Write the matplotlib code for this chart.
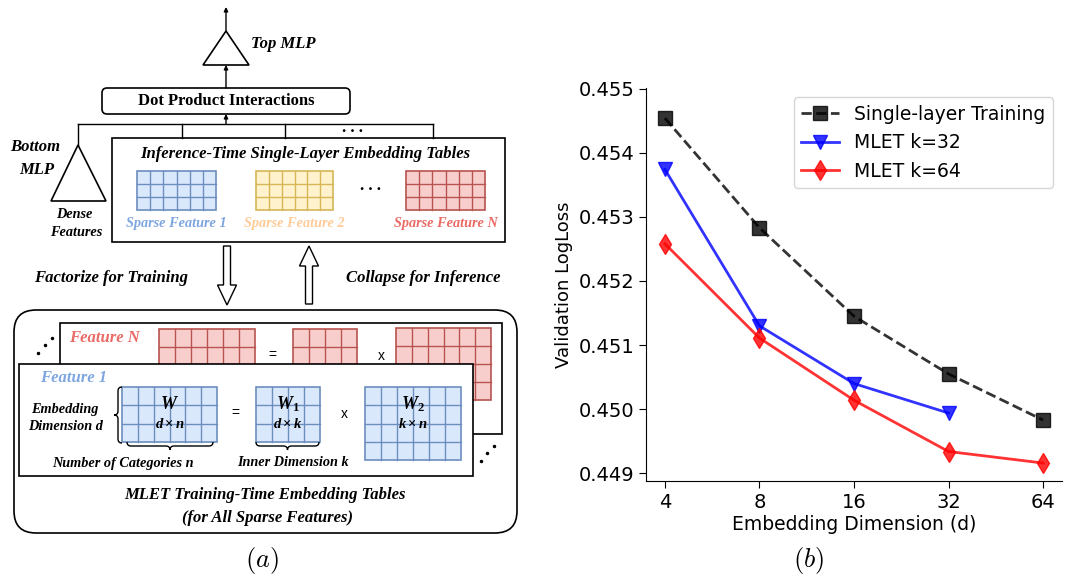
import numpy as np
import matplotlib
matplotlib.use('Agg')
import matplotlib.pyplot as plt
from matplotlib.patches import Rectangle, Polygon, FancyBboxPatch, PathPatch
from matplotlib.path import Path
from matplotlib.ticker import FormatStrFormatter, NullLocator

plt.rcParams['mathtext.fontset'] = 'custom'
plt.rcParams['mathtext.it'] = 'Liberation Serif:bold:italic'
plt.rcParams['mathtext.rm'] = 'Liberation Serif:bold'
plt.rcParams['mathtext.bf'] = 'Liberation Serif:bold'

# ---- data for panel (b)
emb_dims = [4, 8, 16, 32, 64]
single_layer = [0.45454, 0.45283, 0.45145, 0.45055, 0.44983]
mlet_k32_dims = [4, 8, 16, 32]
mlet_k32 = [0.45374, 0.45130, 0.45040, 0.44994]
mlet_k64 = [0.45258, 0.45111, 0.45014, 0.44934, 0.44916]
y_ticks = [0.449, 0.450, 0.451, 0.452, 0.453, 0.454, 0.455]

# ---- labels for panel (a)
sparse_labels = ['Sparse Feature 1', 'Sparse Feature 2', 'Sparse Feature N']
sparse_colors = ['#7EA6E0', '#FFCC99', '#EA6B66']
table_fill = ['#dae8fc', '#fff2cc', '#f8cecc']
table_edge = ['#6c8ebf', '#d6b656', '#b85450']

SERIF = 'Liberation Serif'


def grid(ax, x0, y0, x1, y1, ncol, nrow, fc, ec, z=2):
    ax.add_patch(Rectangle((x0, y0), x1 - x0, y1 - y0, fc=fc, ec=ec, lw=1.2, zorder=z))
    for c in range(1, ncol):
        x = x0 + (x1 - x0) * c / ncol
        ax.plot([x, x], [y0, y1], color=ec, lw=1.0, zorder=z)
    for r in range(1, nrow):
        y = y0 + (y1 - y0) * r / nrow
        ax.plot([x0, x1], [y, y], color=ec, lw=1.0, zorder=z)


def btext(ax, x, y, s, size=12, color='black', ha='center', style='italic', weight='bold'):
    ax.text(x, y, s, fontsize=size, color=color, ha=ha, va='center',
            family=SERIF, style=style, weight=weight, zorder=6)


def hbrace(ax, x0, x1, y, h=4):
    xm = (x0 + x1) / 2
    verts = [(x0, y - h), (x0, y), (x0 + h, y), (xm - h, y), (xm, y), (xm, y + h),
             (xm, y), (xm + h, y), (x1 - h, y), (x1, y), (x1, y - h)]
    codes = [Path.MOVETO, Path.CURVE3, Path.CURVE3, Path.LINETO, Path.CURVE3, Path.CURVE3,
             Path.CURVE3, Path.CURVE3, Path.LINETO, Path.CURVE3, Path.CURVE3]
    ax.add_patch(PathPatch(Path(verts, codes), fc='none', ec='black', lw=1.0, zorder=6))


def vbrace(ax, x, y0, y1, w=4):
    ym = (y0 + y1) / 2
    verts = [(x + w, y0), (x, y0), (x, y0 + w), (x, ym - w), (x, ym), (x - w, ym),
             (x, ym), (x, ym + w), (x, y1 - w), (x, y1), (x + w, y1)]
    codes = [Path.MOVETO, Path.CURVE3, Path.CURVE3, Path.LINETO, Path.CURVE3, Path.CURVE3,
             Path.CURVE3, Path.CURVE3, Path.LINETO, Path.CURVE3, Path.CURVE3]
    ax.add_patch(PathPatch(Path(verts, codes), fc='none', ec='black', lw=1.0, zorder=6))


def arrow(ax, x, y_from, y_to):
    ax.annotate('', xy=(x, y_to), xytext=(x, y_from),
                arrowprops=dict(arrowstyle='-|>', color='black', lw=1.0,
                                mutation_scale=6, shrinkA=0, shrinkB=0))


def block_arrow(ax, x, y_tail, y_tip, head_len=20, shaft_w=7, head_w=19):
    s = 1 if y_tip > y_tail else -1
    yh = y_tip - s * head_len
    pts = [(x - shaft_w / 2, y_tail), (x + shaft_w / 2, y_tail), (x + shaft_w / 2, yh),
           (x + head_w / 2, yh), (x, y_tip), (x - head_w / 2, yh), (x - shaft_w / 2, yh)]
    ax.add_patch(Polygon(pts, closed=True, fc='white', ec='black', lw=1.0))


fig = plt.figure(figsize=(10.8, 5.78), dpi=100)

# ================= panel (a): diagram =================
ax = fig.add_axes([0, 0, 0.5, 1])
ax.set_xlim(0, 540)
ax.set_ylim(578, 0)
ax.axis('off')

# top MLP
arrow(ax, 226, 31, 7)
ax.add_patch(Polygon([(226, 31), (203, 65), (249, 65)], closed=True, fc='none', ec='black', lw=1.2))
btext(ax, 251, 44, 'Top MLP', ha='left')
arrow(ax, 226, 88, 65)

# dot product box
ax.add_patch(FancyBboxPatch((102, 88), 248, 26, boxstyle='round,pad=0,rounding_size=5',
                            fc='white', ec='black', lw=1.2))
btext(ax, 226, 101, 'Dot Product Interactions', style='normal')

# bus
ax.plot([78, 433], [124, 124], color='black', lw=1.0)
for bx in [182, 285, 433]:
    ax.plot([bx, bx], [124, 138], color='black', lw=1.0)
ax.plot([78, 78], [124, 145], color='black', lw=1.0)
arrow(ax, 226, 124, 114)
btext(ax, 352, 128, '. . .', style='normal')

# bottom MLP
ax.add_patch(Polygon([(78, 145), (51, 201), (106, 201)], closed=True, fc='none', ec='black', lw=1.2))
btext(ax, 35, 147, 'Bottom')
btext(ax, 37, 170, 'MLP')
btext(ax, 74, 214, 'Dense', size=10.3)
btext(ax, 76, 233, 'Features', size=10.3)

# inference tables
ax.add_patch(Rectangle((112, 138), 393, 104, fc='white', ec='black', lw=1.2))
btext(ax, 305, 154, 'Inference-Time Single-Layer Embedding Tables')
for (x0, x1), fc, ec, lab, col in zip([(137, 216), (256, 333), (406, 485)],
                                      table_fill, table_edge, sparse_labels, sparse_colors):
    grid(ax, x0, 171, x1, 210, 6, 3, fc, ec)
    btext(ax, (x0 + x1) / 2, 224, lab, size=10.3, color=col)
btext(ax, 370, 186, '. . .', style='normal')

# factorize / collapse
block_arrow(ax, 227, 246, 305)
block_arrow(ax, 309, 304, 246)
btext(ax, 111, 278, 'Factorize for Training')
btext(ax, 423, 278, 'Collapse for Inference')

# training-time tables
ax.add_patch(FancyBboxPatch((14, 310), 503, 223, boxstyle='round,pad=0,rounding_size=22',
                            fc='none', ec='black', lw=1.2))
ax.add_patch(Rectangle((60, 323), 442, 111, fc='white', ec='black', lw=1.2, zorder=1))
btext(ax, 69, 338, 'Feature N', color=sparse_colors[2], ha='left')
grid(ax, 159, 329, 255, 382, 6, 3, table_fill[2], table_edge[2])
grid(ax, 293, 329, 357, 382, 4, 3, table_fill[2], table_edge[2])
grid(ax, 396, 328, 491, 400, 6, 4, table_fill[2], table_edge[2])
ax.text(272, 355, '=', fontsize=10, ha='center', va='center', family='Liberation Sans')
ax.text(381, 356, 'x', fontsize=10, ha='center', va='center', family='Liberation Sans')
ax.plot([38, 45, 52], [353, 345, 338], 'k.', ms=3)
ax.plot([481, 487, 494], [461, 453, 446], 'k.', ms=3)

ax.add_patch(Rectangle((19, 364), 454, 112, fc='white', ec='black', lw=1.2, zorder=3))
btext(ax, 40, 378, 'Feature 1', color=sparse_colors[0], ha='left')
btext(ax, 65, 409, 'Embedding', size=10.3)
btext(ax, 66, 427, 'Dimension d', size=10.3)
vbrace(ax, 118, 387, 443)
grid(ax, 122, 387, 217, 442, 6, 3, table_fill[0], table_edge[0], z=4)
grid(ax, 256, 387, 320, 442, 4, 3, table_fill[0], table_edge[0], z=4)
grid(ax, 365, 387, 461, 460, 6, 4, table_fill[0], table_edge[0], z=4)
for cx, top, bot in [(170, '$W$', r'$d\times n$'), (288, '$W_1$', r'$d\times k$'),
                     (413, '$W_2$', r'$k\times n$')]:
    ax.text(cx, 404, top, fontsize=13, ha='center', va='center', zorder=6)
    ax.text(cx, 423, bot, fontsize=10.5, ha='center', va='center', zorder=6)
ax.text(235, 413, '=', fontsize=10, ha='center', va='center', family='Liberation Sans', zorder=6)
ax.text(344, 414, 'x', fontsize=10, ha='center', va='center', family='Liberation Sans', zorder=6)
hbrace(ax, 127, 213, 446)
hbrace(ax, 256, 319, 446)
btext(ax, 123, 463, 'Number of Categories n', size=10.3)
btext(ax, 293, 463, 'Inner Dimension k', size=10.3)
btext(ax, 265, 495, 'MLET Training-Time Embedding Tables')
btext(ax, 267, 518, '(for All Sparse Features)')
ax.text(262, 561, '$(a)$', fontsize=19, ha='center', va='center', math_fontfamily='cm')

# ================= panel (b): line chart =================
ax2 = fig.add_axes([646 / 1080, 1 - 481 / 578, (1062 - 646) / 1080, (481 - 88) / 578])
ax2.plot(emb_dims, single_layer, 'k--s', lw=2, ms=10, alpha=0.8, label='Single-layer Training')
ax2.plot(mlet_k32_dims, mlet_k32, 'b-v', lw=2, ms=10, alpha=0.8, label='MLET k=32')
ax2.plot(emb_dims, mlet_k64, 'r-d', lw=2, ms=10, alpha=0.8, label='MLET k=64')
ax2.set_xscale('log', base=2)
ax2.set_xticks(emb_dims)
ax2.set_xticklabels([str(d) for d in emb_dims])
ax2.xaxis.set_minor_locator(NullLocator())
ax2.set_yticks(y_ticks)
ax2.yaxis.set_major_formatter(FormatStrFormatter('%.3f'))
ax2.set_ylim(0.44888, 0.45501)
ax2.tick_params(labelsize=14, length=5)
ax2.set_xlabel('Embedding Dimension (d)', fontsize=13.5, labelpad=2)
ax2.set_ylabel('Validation LogLoss', fontsize=13)
ax2.spines['top'].set_visible(False)
ax2.spines['right'].set_visible(False)
ax2.legend(loc='upper right', fontsize=13.5)
fig.text(809 / 1080, 1 - 561 / 578, '$(b)$', fontsize=19, ha='center', va='center',
         math_fontfamily='cm')

fig.savefig('out.png', dpi=100)
